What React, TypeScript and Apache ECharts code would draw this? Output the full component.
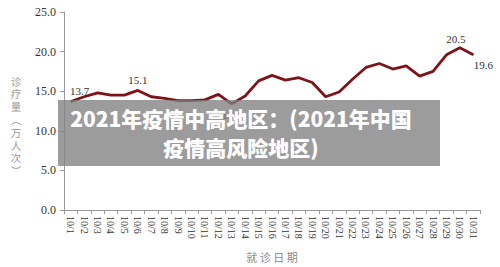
import React, { useEffect, useRef } from "react";
import * as echarts from "echarts";

const categories = [
  "10/1", "10/2", "10/3", "10/4", "10/5", "10/6", "10/7", "10/8", "10/9", "10/10",
  "10/11", "10/12", "10/13", "10/14", "10/15", "10/16", "10/17", "10/18", "10/19", "10/20",
  "10/21", "10/22", "10/23", "10/24", "10/25", "10/26", "10/27", "10/28", "10/29", "10/30", "10/31",
];
const visits = [
  13.7, 14.3, 14.8, 14.5, 14.5, 15.1, 14.3, 14.1, 13.8, 13.8,
  13.9, 14.6, 13.4, 14.4, 16.3, 17.0, 16.4, 16.7, 16.1, 14.3,
  14.9, 16.5, 18.0, 18.5, 17.8, 18.2, 16.9, 17.5, 19.6, 20.5, 19.6,
];
const labelled = [0, 5, 12, 29, 30];
const yTicks = { min: 0, max: 25, interval: 5 };
const yName = ["诊", "疗", "量", "︵", "万", "人", "次", "︶"];
const xName = "就 诊 日 期";
const overlayText = "2021年疫情中高地区：(2021年中国\n疫情高风险地区)";

export default function App() {
  const ref = useRef<HTMLDivElement>(null);
  useEffect(() => {
    if (!ref.current) return;
    document.body.style.margin = "0";
    const chart = echarts.init(ref.current, null, { renderer: "svg" });
    const serif = "Liberation Serif";
    const labelCfg: Record<number, any> = {
      0: { position: "top", offset: [9, 0], distance: 4 },
      5: { position: "top", distance: 4 },
      12: { position: "bottom", distance: 5 },
      29: { position: "top", offset: [-4, 0], distance: 3 },
      30: { position: "bottom", offset: [10, 0], distance: 4 },
    };
    chart.setOption({
      animation: false,
      grid: { left: 64, right: 20, top: 12, bottom: 57, containLabel: false, outerBoundsMode: "none" },
      xAxis: {
        type: "category",
        data: categories,
        boundaryGap: true,
        axisLine: { lineStyle: { color: "#999", width: 1 } },
        axisTick: { show: true, length: 4, alignWithLabel: false, lineStyle: { color: "#999" } },
        axisLabel: {
          interval: 0,
          rotate: -90,
          margin: 6,
          fontFamily: serif,
          fontSize: 10,
          color: "#333",
        },
      },
      yAxis: {
        type: "value",
        min: yTicks.min,
        max: yTicks.max,
        interval: yTicks.interval,
        axisLine: { show: true, lineStyle: { color: "#999", width: 1 } },
        axisTick: { show: true, length: 4, lineStyle: { color: "#999" } },
        splitLine: { show: false },
        axisLabel: {
          formatter: (v: number) => v.toFixed(1),
          fontFamily: serif,
          fontSize: 12,
          color: "#333",
          margin: 8,
        },
      },
      series: [
        {
          type: "line",
          data: visits.map((v, i) =>
            labelled.includes(i)
              ? {
                  value: v,
                  label: {
                    show: true,
                    formatter: (p: any) => Number(p.value).toFixed(1),
                    fontFamily: serif,
                    fontSize: 11,
                    color: "#333",
                    ...labelCfg[i],
                  },
                }
              : v
          ),
          showSymbol: true,
          symbol: "circle",
          symbolSize: 1,
          itemStyle: { color: "#7e1417" },
          lineStyle: { color: "#7e1417", width: 2.8 },
          z: 2,
        },
      ],
      graphic: [
        ...yName.map((ch, i) => ({
          type: "text",
          x: 16,
          y: 81 + i * 12.8,
          style: {
            text: ch,
            fontFamily: "Noto Sans CJK SC",
            fontSize: 10.5,
            fill: "#999",
            align: "center",
            verticalAlign: "middle",
          },
        })),
        {
          type: "text",
          x: 272,
          y: 257,
          style: {
            text: xName,
            fontFamily: "Noto Sans CJK SC",
            fontSize: 11,
            fill: "#888",
            align: "center",
            verticalAlign: "middle",
          },
        },
        {
          type: "rect",
          shape: { x: 58, y: 100, width: 382, height: 66 },
          style: { fill: "rgba(128,128,128,0.78)" },
          z: 100,
        },
        {
          type: "text",
          x: 241,
          y: 132,
          z: 101,
          style: {
            text: overlayText,
            fontFamily: "Noto Sans CJK SC",
            fontWeight: 900,
            fontSize: 21,
            lineHeight: 29,
            fill: "#fff",
            align: "center",
            verticalAlign: "middle",
          },
        },
      ],
    });
    return () => chart.dispose();
  }, []);
  return <div ref={ref} style={{ width: 500, height: 267 }} />;
}
